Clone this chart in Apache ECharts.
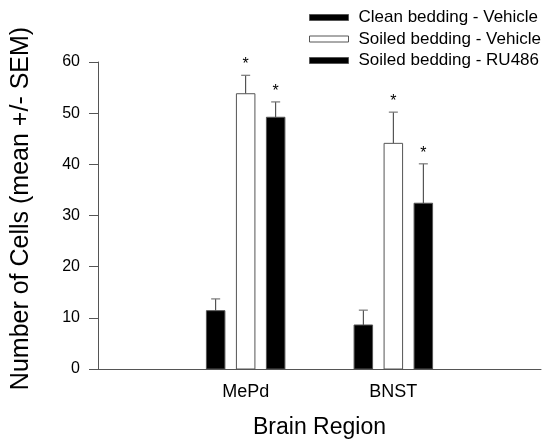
<!DOCTYPE html>
<html><head><meta charset="utf-8">
<script src="https://cdn.jsdelivr.net/npm/echarts@6/dist/echarts.min.js"></script>
<style>html,body{margin:0;padding:0;background:#fff}#c{width:544px;height:444px}</style>
</head><body><div id="c"></div>
<script>
const categories = ['MePd', 'BNST'];
const categoryPos = [1, 2];
const seriesNames = ['Clean bedding - Vehicle', 'Soiled bedding - Vehicle', 'Soiled bedding - RU486'];
const cleanVehicle = [11.4, 8.6];
const soiledVehicle = [53.8, 44.1];
const soiledRU486 = [49.2, 32.4];
const semCleanVehicle = [2.3, 2.9];
const semSoiledVehicle = [3.6, 6.1];
const semSoiledRU486 = [3.0, 7.7];
const sigCleanVehicle = [false, false];
const sigSoiledVehicle = [true, true];
const sigSoiledRU486 = [true, true];
const yTicks = [0, 10, 20, 30, 40, 50, 60];

const fills = ['#000000', '#ffffff', '#000000'];
const values = [cleanVehicle, soiledVehicle, soiledRU486];
const sems = [semCleanVehicle, semSoiledVehicle, semSoiledRU486];
const sigs = [sigCleanVehicle, sigSoiledVehicle, sigSoiledRU486];
const offsets = [-30, 0, 30];
const BAR_W = 18.5;
const FONT = '"Liberation Sans", Arial, sans-serif';

function makeSeries(k) {
  return {
    name: seriesNames[k],
    type: 'custom',
    itemStyle: { color: fills[k], borderColor: '#555', borderWidth: 1 },
    data: categoryPos.map((p, i) => [p, values[k][i], sems[k][i], sigs[k][i] ? 1 : 0]),
    renderItem: function (params, api) {
      const x = api.value(0), v = api.value(1), e = api.value(2), s = api.value(3);
      const base = api.coord([x, 0]);
      const top = api.coord([x, v]);
      const errTop = api.coord([x, v + e]);
      const cx = base[0] + offsets[k];
      const children = [
        { type: 'line', shape: { x1: cx, y1: top[1], x2: cx, y2: errTop[1] }, style: { stroke: '#333', lineWidth: 1 } },
        { type: 'line', shape: { x1: cx - 4.5, y1: errTop[1], x2: cx + 4.5, y2: errTop[1] }, style: { stroke: '#777', lineWidth: 1.2 } },
        { type: 'rect', shape: { x: cx - BAR_W / 2, y: top[1], width: BAR_W, height: base[1] - top[1] },
          style: { fill: fills[k], stroke: '#555', lineWidth: 1 } }
      ];
      if (s) {
        children.push({ type: 'text', style: { text: '*', x: cx, y: errTop[1] - 10.5, align: 'center', verticalAlign: 'middle',
          font: '16px ' + FONT, fill: '#000' } });
      }
      return { type: 'group', children: children };
    }
  };
}

const chart = echarts.init(document.getElementById('c'), null, { renderer: 'canvas' });
chart.setOption({
  animation: false,
  backgroundColor: '#fff',
  grid: { left: 98, top: 62, width: 447, height: 312, containLabel: false },
  legend: {
    orient: 'vertical', left: 304, top: 4, itemWidth: 39, itemHeight: 6, itemGap: 4.5,
    icon: 'rect',
    textStyle: { fontFamily: FONT, fontSize: 17, color: '#000', padding: [0, 0, 0, 5] },
    data: [
      { name: seriesNames[0], itemStyle: { color: '#000', borderColor: '#555', borderWidth: 1 } },
      { name: seriesNames[1], itemStyle: { color: '#fff', borderColor: '#555', borderWidth: 1 } },
      { name: seriesNames[2], itemStyle: { color: '#000', borderColor: '#555', borderWidth: 1 } }
    ]
  },
  xAxis: {
    type: 'value', min: 0, max: 3, interval: 1,
    name: 'Brain Region', nameLocation: 'middle', nameGap: 47,
    nameTextStyle: { fontFamily: FONT, fontSize: 23, color: '#000' },
    axisLine: { lineStyle: { color: '#555', width: 1 } },
    axisTick: { show: false },
    splitLine: { show: false },
    axisLabel: { margin: 14, fontFamily: FONT, fontSize: 18, color: '#000',
      formatter: function (v) { const i = categoryPos.indexOf(v); return i >= 0 ? categories[i] : ''; } }
  },
  yAxis: {
    type: 'value', min: yTicks[0], max: yTicks[yTicks.length - 1], interval: 10,
    name: 'Number of Cells (mean +/- SEM)', nameLocation: 'middle', nameGap: 64, nameRotate: 90,
    nameTextStyle: { fontFamily: FONT, fontSize: 25, color: '#000', padding: [0, 0, 0, 14] },
    axisLine: { show: true, lineStyle: { color: '#555', width: 1 } },
    axisTick: { show: true, inside: false, length: 9, lineStyle: { color: '#555' } },
    splitLine: { show: false },
    axisLabel: { margin: 18, fontFamily: FONT, fontSize: 16, color: '#000' }
  },
  series: [makeSeries(0), makeSeries(1), makeSeries(2)]
});
</script></body></html>
